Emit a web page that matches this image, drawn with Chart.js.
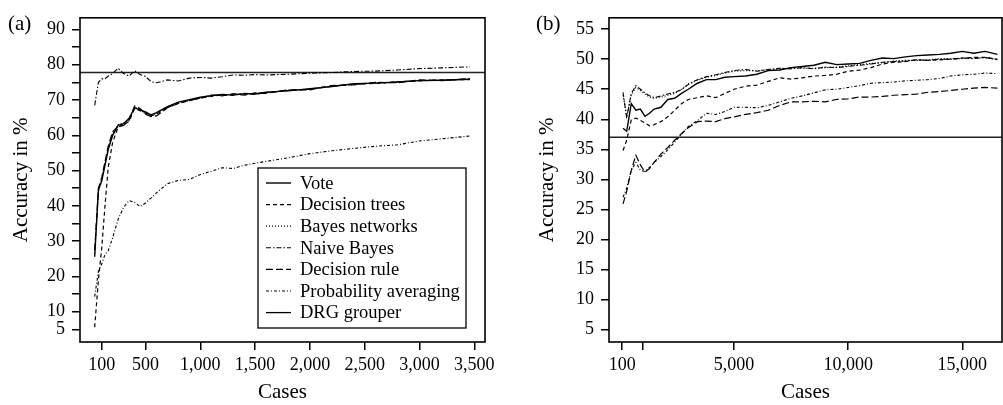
<!DOCTYPE html>
<html>
<head>
<meta charset="utf-8">
<title>Accuracy by number of cases</title>
<script src="https://cdn.jsdelivr.net/npm/chart.js@4.4.0/dist/chart.umd.min.js"></script>
<style>
    body { margin: 0; background: #fff; }
    .panel { position: absolute; top: 0; }
    #panelA { left: 0; }
    #panelB { left: 500px; }
</style>
</head>
<body>
<div class="panel" id="panelA"><canvas id="chartA" width="500" height="405"></canvas></div>
<div class="panel" id="panelB"><canvas id="chartB" width="503" height="405"></canvas></div>

<script>
    // ---- panel (a) ----
    const casesA = [36, 70, 100, 130, 160, 200, 250, 300, 350, 400, 450, 500, 550, 600, 700, 800, 900, 1000,
        1100, 1200, 1300, 1400, 1500, 1600, 1800, 2000, 2200, 2400, 2600, 2800, 3000, 3200, 3460];
    const voteA = [25.6, 44.5, 47, 51.5, 56, 60, 62.8, 63.3, 64.8, 67.8, 67.2, 66.6, 65.8, 66.4, 68.1, 69.4, 70.1, 70.8,
        71.2, 71.6, 71.4, 71.8, 71.7, 72.2, 72.6, 73.2, 73.8, 74.6, 74.8, 75.1, 75.5, 75.6, 75.9];
    const treesA = [5.6, 19, 28, 40, 51, 58, 62.3, 63.0, 64.0, 67.5, 67.0, 66.2, 65.5, 66.0, 67.9, 69.1, 69.8, 70.6,
        71.0, 71.5, 71.3, 71.9, 71.6, 72.1, 72.7, 73.1, 73.9, 74.5, 74.7, 75.2, 75.4, 75.7, 75.8];
    const bayesA = [26.5, 44, 47.5, 52, 56.5, 60.5, 63, 63.5, 64.5, 68, 67.4, 66.3, 65.6, 66.1, 68.0, 69.2, 70.0, 70.6,
        71.3, 71.4, 71.6, 71.6, 71.9, 72.0, 72.8, 73.0, 74.0, 74.4, 74.9, 75.0, 75.6, 75.6, 76.0];
    const naiveA = [68.5, 75, 76, 76, 76.8, 77.5, 79, 77.5, 76.8, 78.3, 77.2, 76.7, 75.2, 74.9, 75.7, 75.4, 76.2, 76.4,
        76.2, 76.6, 77.1, 77.0, 77.2, 77.1, 77.3, 77.6, 77.8, 78.1, 78.2, 78.5, 78.9, 79.1, 79.4];
    const ruleA = [27.5, 45, 48, 52.5, 57, 61, 62.5, 62.8, 64.2, 68.3, 67.6, 66.0, 65.3, 65.5, 67.8, 69.0, 69.9, 70.5,
        71.4, 71.2, 71.8, 71.4, 72.0, 71.9, 72.9, 72.9, 74.1, 74.3, 75.0, 74.9, 75.7, 75.5, 76.1];
    const averagingA = [14.3, 21.5, 23.5, 26.2, 27.3, 31, 36.2, 39.6, 41.5, 41.0, 39.8, 40.8, 42.2, 43.7, 46.3, 47.2, 47.5, 48.9,
        49.8, 50.8, 50.6, 51.5, 52.1, 52.6, 53.6, 54.8, 55.6, 56.3, 56.9, 57.3, 58.4, 59.0, 59.8];
    const drgA = 77.8;
    const xTicksA = [100, 500, 1000, 1500, 2000, 2500, 3000, 3500];
    const xLabelsA = ['100', '500', '1,000', '1,500', '2,000', '2,500', '3,000', '3,500'];
    const yTicksA = [5, 10, 15, 20, 25, 30, 35, 40, 45, 50, 55, 60, 65, 70, 75, 80, 85, 90];
    const yLabelsA = ['5', '10', '', '20', '', '30', '', '40', '', '50', '', '60', '', '70', '', '80', '', '90'];

    // ---- panel (b) ----
    const casesB = [140, 300, 500, 700, 900, 1100, 1300, 1500, 1800, 2100, 2400, 2700, 3000, 3400, 3800, 4200, 4600,
        5000, 5500, 6000, 6500, 7000, 7500, 8000, 8500, 9000, 9500, 10000, 10500, 11000, 11500, 12000, 12500,
        13000, 13500, 14000, 14500, 15000, 15500, 16000, 16540];
    const voteB = [38.5, 38.0, 42.6, 41.5, 41.7, 40.5, 41.0, 41.7, 42.0, 43.3, 43.5, 44.3, 45.0, 46.0, 46.6, 46.6, 47.0,
        47.1, 47.2, 47.5, 48.1, 48.2, 48.6, 48.8, 49.0, 49.5, 49.1, 49.2, 49.3, 49.8, 50.2, 50.1, 50.4,
        50.6, 50.7, 50.8, 51.0, 51.3, 51.0, 51.3, 50.8];
    const treesB = [34.8, 36.5, 39.9, 40.2, 39.8, 39.4, 38.9, 39.1, 39.6, 40.4, 41.5, 42.6, 43.3, 43.6, 43.9, 43.6, 44.3,
        45.0, 45.5, 45.7, 46.3, 46.9, 46.7, 46.9, 47.2, 47.3, 47.5, 48.0, 48.2, 48.6, 49.2, 49.5, 49.6,
        49.9, 49.8, 49.9, 50.0, 50.2, 50.3, 50.3, 50.0];
    const bayesB = [44.0, 40.5, 44.0, 45.3, 44.8, 44.2, 43.7, 43.5, 43.7, 44.0, 44.3, 45.0, 45.9, 46.5, 47.0, 47.3, 47.7,
        48.0, 48.1, 48.1, 48.2, 48.4, 48.5, 48.5, 48.5, 48.6, 48.7, 48.9, 49.1, 49.3, 49.4, 49.7, 49.8,
        49.8, 49.9, 50.1, 50.1, 50.1, 50.2, 50.2, 50.0];
    const naiveB = [44.5, 40.2, 44.3, 45.6, 45.0, 44.4, 43.9, 43.6, 43.9, 44.2, 44.5, 44.9, 45.8, 46.6, 47.1, 47.4, 47.8,
        48.1, 48.3, 48.0, 48.3, 48.5, 48.4, 48.6, 48.4, 48.7, 48.6, 48.8, 49.0, 49.2, 49.5, 49.6, 49.7,
        49.9, 49.8, 50.0, 50.0, 50.2, 50.1, 50.3, 49.9];
    const ruleB = [25.9, 28.0, 31.5, 34.0, 32.4, 31.2, 31.8, 32.8, 34.2, 35.3, 36.5, 37.6, 38.6, 39.6, 39.7, 39.6, 40.1,
        40.4, 40.8, 41.1, 41.5, 42.3, 42.9, 42.9, 43.0, 42.9, 43.3, 43.4, 43.7, 43.7, 43.8, 44.0, 44.1,
        44.2, 44.5, 44.6, 44.8, 45.0, 45.2, 45.3, 45.2];
    const averagingB = [27.0, 28.5, 31.5, 32.8, 31.5, 31.3, 32.0, 32.8, 33.8, 34.9, 36.2, 37.5, 38.8, 39.8, 41.0, 40.8, 41.3,
        42.0, 42.0, 41.9, 42.3, 42.9, 43.5, 43.9, 44.4, 44.9, 45.0, 45.3, 45.6, 46.0, 46.1, 46.2, 46.4,
        46.5, 46.6, 46.8, 47.2, 47.4, 47.5, 47.7, 47.6];
    const drgB = 37.0;
    const xTicksB = [100, 1000, 5000, 10000, 15000];
    const xLabelsB = ['100', '', '5,000', '10,000', '15,000'];
    const yTicksB = [5, 10, 15, 20, 25, 30, 35, 40, 45, 50, 55];
    const yLabelsB = ['5', '10', '15', '20', '25', '30', '35', '40', '45', '50', '55'];

    const seriesNames = ['Vote', 'Decision trees', 'Bayes networks', 'Naive Bayes', 'Decision rule',
        'Probability averaging', 'DRG grouper'];
    const dashes = [[], [4, 3], [1, 2], [5, 2, 1.5, 2], [7, 3], [3, 2, 1, 2], []];
    const widths = [1.4, 1.2, 1.2, 1.1, 1.2, 1.1, 1.3];

    const serif = "'Liberation Serif', 'DejaVu Serif', serif";

    function pts(xs, ys) {
        return xs.map((x, i) => ({x: x, y: ys[i]}));
    }

    function makeDatasets(xs, lists, drg, xMin, xMax) {
        const sets = lists.map((ys, i) => ({
            label: seriesNames[i],
            data: pts(xs, ys),
            borderColor: '#000',
            borderWidth: widths[i],
            borderDash: dashes[i],
            pointRadius: 0,
            tension: 0,
            fill: false
        }));
        sets.push({
            label: seriesNames[6],
            data: [{x: xMin, y: drg}, {x: xMax, y: drg}],
            borderColor: '#222',
            borderWidth: widths[6],
            pointRadius: 0,
            fill: false
        });
        return sets;
    }

    // box round the plot, panel letter, optional legend
    const framePlugin = {
        id: 'frame',
        afterDatasetsDraw(chart, args, opts) {
            const ctx = chart.ctx;
            const a = chart.chartArea;
            ctx.save();
            ctx.strokeStyle = '#000';
            ctx.lineWidth = 1.6;
            ctx.strokeRect(a.left, a.top, a.right - a.left, a.bottom - a.top);

            ctx.fillStyle = '#000';
            ctx.font = '21px ' + serif;
            ctx.textBaseline = 'middle';
            ctx.textAlign = 'left';
            ctx.fillText(opts.letter, opts.letterX, 24);

            if (opts.legend) {
                const lg = opts.legend;
                ctx.fillStyle = '#fff';
                ctx.fillRect(lg.x, lg.y, lg.w, lg.h);
                ctx.lineWidth = 1.3;
                ctx.strokeRect(lg.x, lg.y, lg.w, lg.h);
                ctx.font = '18.5px ' + serif;
                seriesNames.forEach((name, i) => {
                    const yy = lg.y + 15 + i * 21.6;
                    ctx.beginPath();
                    ctx.setLineDash(dashes[i]);
                    ctx.lineWidth = widths[i];
                    ctx.strokeStyle = '#000';
                    ctx.moveTo(lg.x + 8, yy);
                    ctx.lineTo(lg.x + 33, yy);
                    ctx.stroke();
                    ctx.setLineDash([]);
                    ctx.fillStyle = '#000';
                    ctx.fillText(name, lg.x + 42, yy + 1);
                });
            }
            ctx.restore();
        }
    };

    function makeChart(id, cfg) {
        const ctx = document.getElementById(id).getContext('2d');
        return new Chart(ctx, {
            type: 'line',
            data: {datasets: cfg.datasets},
            plugins: [framePlugin],
            options: {
                responsive: false,
                animation: false,
                devicePixelRatio: 1,
                layout: {padding: cfg.padding},
                plugins: {
                    legend: {display: false},
                    tooltip: {enabled: false},
                    frame: cfg.frame
                },
                scales: {
                    x: {
                        type: 'linear',
                        min: cfg.xMin,
                        max: cfg.xMax,
                        afterBuildTicks: s => { s.ticks = cfg.xTicks.map(v => ({value: v})); },
                        afterFit: s => { s.height = 63; },
                        ticks: {
                            autoSkip: false,
                            maxRotation: 0,
                            color: '#000',
                            padding: 4,
                            font: {family: serif, size: 18},
                            callback: (v, i) => cfg.xLabels[i]
                        },
                        grid: {drawOnChartArea: false, drawTicks: true, tickLength: 8, color: '#000', lineWidth: 1.5},
                        border: {display: false},
                        title: {display: true, text: 'Cases', color: '#000', font: {family: serif, size: 21}, padding: {top: 0, bottom: 0}}
                    },
                    y: {
                        type: 'linear',
                        min: cfg.yMin,
                        max: cfg.yMax,
                        afterBuildTicks: s => { s.ticks = cfg.yTicks.map(v => ({value: v})); },
                        afterFit: s => { s.width = cfg.yWidth; },
                        ticks: {
                            autoSkip: false,
                            color: '#000',
                            padding: 7,
                            font: {family: serif, size: 18},
                            callback: (v, i) => cfg.yLabels[i]
                        },
                        grid: {drawOnChartArea: false, drawTicks: true, tickLength: 8, color: '#000', lineWidth: 1.5},
                        border: {display: false},
                        title: {display: true, text: 'Accuracy in %', color: '#000', font: {family: serif, size: 21}, padding: {top: 9, bottom: 0}}
                    }
                }
            }
        });
    }

    const xMinA = -98, xMaxA = 3598;
    makeChart('chartA', {
        datasets: makeDatasets(casesA, [voteA, treesA, bayesA, naiveA, ruleA, averagingA], drgA, xMinA, xMaxA),
        padding: {left: 0, right: 15, top: 8, bottom: 0},
        xMin: xMinA, xMax: xMaxA, xTicks: xTicksA, xLabels: xLabelsA,
        yMin: 1.42, yMax: 93.3, yTicks: yTicksA, yLabels: yLabelsA,
        yWidth: 80,
        frame: {letter: '(a)', letterX: 8, legend: {x: 258, y: 168, w: 208, h: 160}}
    });

    const xMinB = -475, xMaxB = 16740;
    makeChart('chartB', {
        datasets: makeDatasets(casesB, [voteB, treesB, bayesB, naiveB, ruleB, averagingB], drgB, xMinB, xMaxB),
        padding: {left: 26, right: 1, top: 8, bottom: 0},
        xMin: xMinB, xMax: xMaxB, xTicks: xTicksB, xLabels: xLabelsB,
        yMin: 2.9, yMax: 56.9, yTicks: yTicksB, yLabels: yLabelsB,
        yWidth: 83,
        frame: {letter: '(b)', letterX: 36}
    });
</script>
</body>
</html>
